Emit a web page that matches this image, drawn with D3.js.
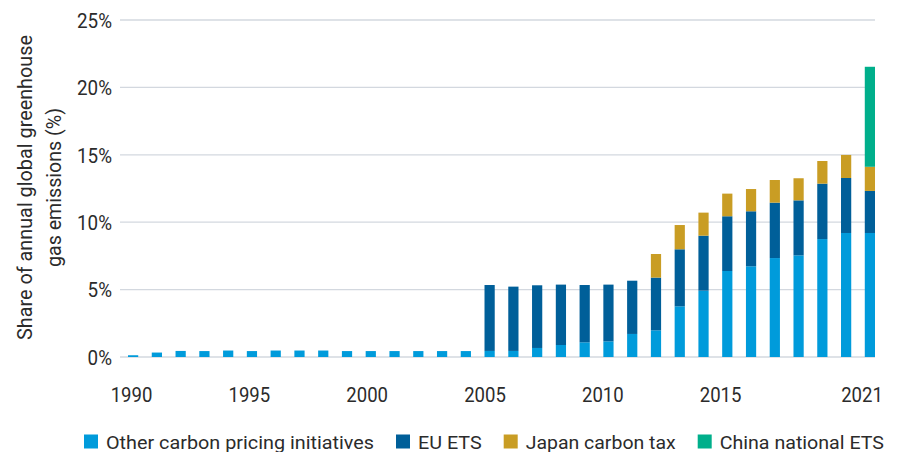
<!DOCTYPE html>
<html>
<head>
<meta charset="utf-8">
<script src="https://cdn.jsdelivr.net/npm/d3@7"></script>
<style>
  html, body { margin: 0; padding: 0; background: #fff; }
  svg { display: block; }
  text { font-family: Roboto, "Liberation Sans", sans-serif; fill: #2b2b2b; }
</style>
</head>
<body>
<div id="chart"></div>
<script>
const years = d3.range(1990, 2022);
const otherCarbon = [0.13, 0.33, 0.45, 0.44, 0.48, 0.44, 0.48, 0.48, 0.48, 0.44, 0.44, 0.44, 0.44, 0.44, 0.44,
  0.45, 0.45, 0.67, 0.89, 1.09, 1.16, 1.71, 1.98, 3.76, 4.92, 6.38, 6.73, 7.34, 7.54, 8.75, 9.2, 9.2];
const euEts = [0, 0, 0, 0, 0, 0, 0, 0, 0, 0, 0, 0, 0, 0, 0,
  4.89, 4.77, 4.65, 4.48, 4.25, 4.21, 3.95, 3.91, 4.23, 4.08, 4.06, 4.08, 4.11, 4.08, 4.11, 4.08, 3.12];
const japanTax = [0, 0, 0, 0, 0, 0, 0, 0, 0, 0, 0, 0, 0, 0, 0,
  0, 0, 0, 0, 0, 0, 0, 1.75, 1.80, 1.71, 1.68, 1.65, 1.68, 1.64, 1.68, 1.71, 1.79];
const chinaEts = [0, 0, 0, 0, 0, 0, 0, 0, 0, 0, 0, 0, 0, 0, 0,
  0, 0, 0, 0, 0, 0, 0, 0, 0, 0, 0, 0, 0, 0, 0, 0, 7.42];
const seriesNames = ["Other carbon pricing initiatives", "EU ETS", "Japan carbon tax", "China national ETS"];
const seriesColors = ["#009bdb", "#005f99", "#c99d24", "#00af8b"];
const yTicks = [0, 5, 10, 15, 20, 25];
const xTickYears = [1990, 1995, 2000, 2005, 2010, 2015, 2021];
const yTitleLines = ["Share of annual global greenhouse", "gas emissions (%)"];

// layout (measured text widths of the reference's condensed face)
const legendTextWidths = [268, 63.7, 150, 164.3];
const yTitleWidths = [305, 159];

const W = 902, H = 452;
const svg = d3.select("#chart").append("svg").attr("width", W).attr("height", H);

const keys = ["other", "eu", "japan", "china"];
const rows = years.map((y, i) => ({ year: y, other: otherCarbon[i], eu: euEts[i], japan: japanTax[i], china: chinaEts[i] }));
const stacked = d3.stack().keys(keys)(rows);

const x = d3.scaleBand().domain(years).range([128, 875]).paddingInner(0.57).paddingOuter(0);
const xLabel = d3.scaleLinear().domain([1990, 2021]).range([131, 861.5]);
const y = d3.scaleLinear().domain([0, 25]).range([357, 20]);

function condense(sel, sampleText, target) {
  let w = null;
  sel.each(function () { if (this.textContent === sampleText) w = this.getComputedTextLength(); });
  if (!w) return;
  const sx = target / w;
  sel.attr("transform", `scale(${sx},1)`);
}

// gridlines
svg.append("g").selectAll("line").data(yTicks).join("line")
  .attr("x1", 120).attr("x2", 875)
  .attr("y1", d => y(d)).attr("y2", d => y(d))
  .attr("stroke", "#d3d8df").attr("stroke-width", 1.3);

// y axis labels
const yAxis = d3.axisLeft(y).tickValues(yTicks).tickFormat(d => d + "%").tickSize(0).tickPadding(0);
const yg = svg.append("g").attr("transform", "translate(112,0)").call(yAxis);
yg.select(".domain").remove();
const yLabels = yg.selectAll("text").attr("font-size", 20).attr("dy", "0.36em").attr("x", 0)
  .style("font-family", null).attr("fill", "#2b2b2b");
condense(yLabels, "25%", 35);

// bars
svg.append("g").selectAll("g").data(stacked).join("g")
  .attr("fill", (d, i) => seriesColors[i])
  .selectAll("rect").data(d => d.filter(s => s[1] - s[0] > 0)).join("rect")
  .attr("x", d => x(d.data.year))
  .attr("width", x.bandwidth())
  .attr("y", d => y(d[1]))
  .attr("height", d => y(d[0]) - y(d[1]));

// x axis labels
const xAxis = d3.axisBottom(xLabel).tickValues(xTickYears).tickFormat(d3.format("d")).tickSize(0).tickPadding(0);
const xg = svg.append("g").attr("transform", "translate(0,402)").call(xAxis);
xg.select(".domain").remove();
const xLabels = xg.selectAll("text").attr("font-size", 21).attr("dy", 0).attr("y", 0)
  .style("font-family", null).attr("fill", "#2b2b2b");
condense(xLabels, "2000", 41.7);

// y title
const yt = svg.append("text").attr("transform", "translate(32,187.5) rotate(-90)")
  .attr("text-anchor", "middle").attr("font-size", 21);
yt.selectAll("tspan").data(yTitleLines).join("tspan")
  .attr("x", 0).attr("dy", (d, i) => i === 0 ? 0 : 29)
  .attr("textLength", (d, i) => yTitleWidths[i]).attr("lengthAdjust", "spacingAndGlyphs")
  .text(d => d);

// legend
const lg = svg.append("g");
let lx = 84;
seriesNames.forEach((name, i) => {
  lg.append("rect").attr("x", lx).attr("y", 434.5).attr("width", 14).attr("height", 14).attr("fill", seriesColors[i]);
  lg.append("text").attr("x", lx + 22).attr("y", 448.5).attr("font-size", 18.7)
    .attr("textLength", legendTextWidths[i]).attr("lengthAdjust", "spacingAndGlyphs").text(name);
  lx += 22 + legendTextWidths[i] + 22;
});
</script>
</body>
</html>
